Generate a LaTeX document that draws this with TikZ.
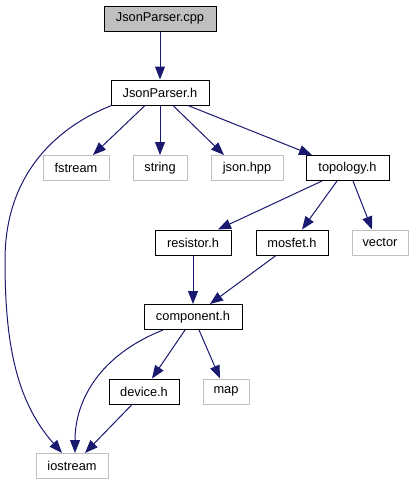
\documentclass[tikz,border=0pt]{standalone}
\usepackage{fontspec}
\setmainfont{Liberation Sans}
\usetikzlibrary{arrows.meta}
\definecolor{edgeblue}{HTML}{191970}
\definecolor{sysgray}{HTML}{BFBFBF}
\begin{document}
\begin{tikzpicture}[x=1pt,y=-1pt,
  hbox/.style={draw=black,line width=1pt,fill=white,minimum height=25pt,inner sep=0pt,
    font=\fontsize{12.8}{14}\selectfont},
  sysbox/.style={hbox,draw=sysgray},
  rootbox/.style={hbox,fill=sysgray},
  dep/.style={draw=edgeblue,line width=1pt,-{Triangle[length=13pt,width=10pt]}}
]
\useasboundingbox (0,0) rectangle (414,485);
\node[rootbox,minimum width=112pt] (cpp) at (160,18.5) {JsonParser.cpp};
\node[hbox,minimum width=98pt] (jh) at (160,92.5) {JsonParser.h};
\node[sysbox,minimum width=66pt] (fs) at (76,168) {fstream};
\node[sysbox,minimum width=54pt] (str) at (160,168) {string};
\node[sysbox,minimum width=72pt] (json) at (247,168) {json.hpp};
\node[hbox,minimum width=83pt] (topo) at (347.5,168) {topology.h};
\node[hbox,minimum width=76pt] (res) at (193,242.5) {resistor.h};
\node[hbox,minimum width=72pt] (mos) at (292,242.5) {mosfet.h};
\node[sysbox,minimum width=56pt] (vec) at (380,242.5) {vector};
\node[hbox,minimum width=98pt] (comp) at (193,317) {component.h};
\node[hbox,minimum width=70pt] (dev) at (144,391.5) {device.h};
\node[sysbox,minimum width=46pt] (map) at (226,391.5) {map};
\node[sysbox,minimum width=72pt] (ios) at (72,466) {iostream};

\draw[dep] (cpp.south) -- (jh.north);
\draw[dep] ([xshift=-15pt]jh.south) -- ([xshift=17pt]fs.north);
\draw[dep] (jh.south) -- (str.north);
\draw[dep] ([xshift=13pt]jh.south) -- ([xshift=-23pt]json.north);
\draw[dep] ([xshift=28pt]jh.south) -- ([xshift=-35.5pt]topo.north);
\draw[dep] ([xshift=1pt]jh.south west) .. controls (50,130) and (5,180) .. (5,260)
  .. controls (5,340) and (15,400) .. ([xshift=-10pt]ios.north);
\draw[dep] ([xshift=-25.5pt]topo.south) -- ([xshift=25pt]res.north);
\draw[dep] ([xshift=-10.5pt]topo.south) -- ([xshift=10pt]mos.north);
\draw[dep] ([xshift=5.5pt]topo.south) -- ([xshift=-8pt]vec.north);
\draw[dep] (res.south) -- (comp.north);
\draw[dep] ([xshift=-16pt]mos.south) -- ([xshift=17pt]comp.north);
\draw[dep] ([xshift=-8pt]comp.south) -- ([xshift=8pt]dev.north);
\draw[dep] ([xshift=6pt]comp.south) -- ([xshift=-6pt]map.north);
\draw[dep] ([xshift=-30pt]comp.south) .. controls (100,355) and (75,400) .. ([xshift=3pt]ios.north);
\draw[dep] ([xshift=-12pt]dev.south) -- ([xshift=13pt]ios.north);
\end{tikzpicture}
\end{document}
